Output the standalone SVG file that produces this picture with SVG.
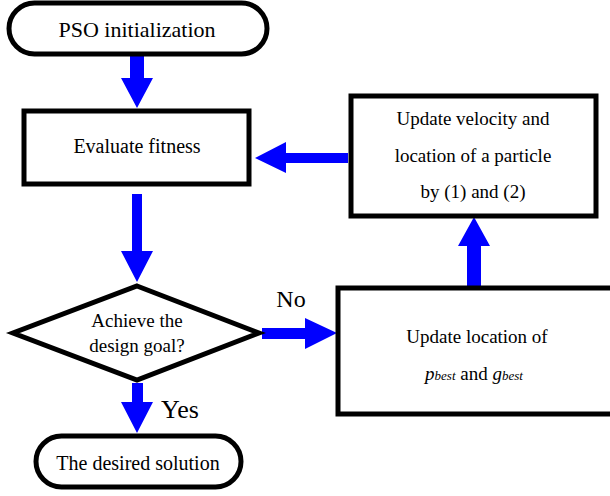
<svg xmlns="http://www.w3.org/2000/svg" width="610" height="496" viewBox="0 0 610 496">
<rect width="610" height="496" fill="#fff"/>
<g id="connectors" fill="#0000ff">
<polygon points="130,55 144,55 144,78 153,78 137,108 121,78 130,78"/>
<polygon points="132,194 142,194 142,251 153,251 137,282 121,251 132,251"/>
<polygon points="348,153 348,163 286,163 286,173 255,158 286,142 286,153"/>
<polygon points="467,287 481,287 481,246 490,246 474,217 458,246 467,246"/>
<polygon points="262,328 262,339 305,339 305,349 337,333 305,318 305,328"/>
<polygon points="132,383 143,383 143,402 153,402 137,433 121,402 132,402"/>
</g>
<text x="291" y="307" font-size="24" font-family="Liberation Serif" text-anchor="middle">No</text>
<text x="180" y="418" font-size="26" font-family="Liberation Serif" text-anchor="middle">Yes</text>
<g id="start">
<rect x="9" y="3" width="258" height="51" rx="25.5" fill="#fff" stroke="#000" stroke-width="5"/>
<text x="137" y="37" font-size="22" font-family="Liberation Serif" text-anchor="middle">PSO initialization</text>
</g>
<g id="evaluate">
<rect x="24" y="111" width="225" height="73" fill="#fff" stroke="#000" stroke-width="5"/>
<text x="137" y="153" font-size="20" font-family="Liberation Serif" text-anchor="middle">Evaluate fitness</text>
</g>
<g id="update-velocity">
<rect x="351" y="96" width="245" height="120" fill="#fff" stroke="#000" stroke-width="5"/>
<text x="473" y="125" font-size="19" font-family="Liberation Serif" text-anchor="middle">Update velocity and</text>
<text x="473" y="162" font-size="19" font-family="Liberation Serif" text-anchor="middle">location of a particle</text>
<text x="473" y="198" font-size="19" font-family="Liberation Serif" text-anchor="middle">by (1) and (2)</text>
</g>
<g id="decision">
<polygon points="137,286 259,333 137,380 13,333" fill="#fff" stroke="#000" stroke-width="5"/>
<text x="137" y="327" font-size="19" font-family="Liberation Serif" text-anchor="middle">Achieve the</text>
<text x="137" y="352" font-size="19" font-family="Liberation Serif" text-anchor="middle">design goal?</text>
</g>
<g id="update-best">
<rect x="338" y="288" width="290" height="126" fill="#fff" stroke="#000" stroke-width="5"/>
<text x="477" y="343" font-size="19" font-family="Liberation Serif" text-anchor="middle">Update location of</text>
<text x="474" y="380" font-size="19" font-family="Liberation Serif" text-anchor="middle"><tspan font-style="italic">p</tspan><tspan font-style="italic" font-size="13">best</tspan> and <tspan font-style="italic">g</tspan><tspan font-style="italic" font-size="13">best</tspan></text>
</g>
<g id="end">
<rect x="36" y="436" width="205" height="51" rx="25.5" fill="#fff" stroke="#000" stroke-width="5"/>
<text x="138" y="470" font-size="20" font-family="Liberation Serif" text-anchor="middle">The desired solution</text>
</g>
</svg>
